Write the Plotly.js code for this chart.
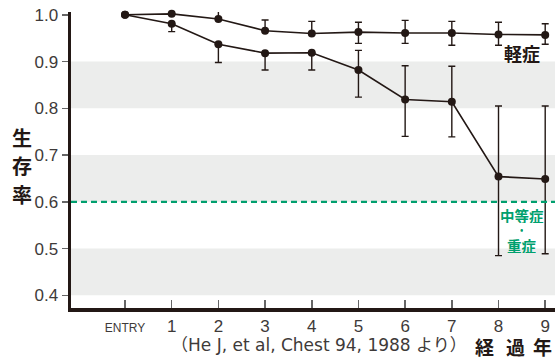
<!DOCTYPE html>
<html>
<head>
<meta charset="utf-8">
<script src="https://cdn.plot.ly/plotly-3.0.1.min.js"></script>
<style>html,body{margin:0;padding:0;background:#fff;}#chart{width:555px;height:358px;}</style>
</head>
<body>
<div id="chart"></div>
<script>
// Data
const years = [0, 1, 2, 3, 4, 5, 6, 7, 8, 9];
const xTickLabels = ["ENTRY", "1", "2", "3", "4", "5", "6", "7", "8", "9"];
const yTicks = [0.4, 0.5, 0.6, 0.7, 0.8, 0.9, 1.0];

const mildSurvival = [1.0, 1.002, 0.991, 0.966, 0.960, 0.963, 0.961, 0.961, 0.958, 0.957];
const mildErrPlus  = [0, 0, 0.017, 0.023, 0.026, 0.021, 0.027, 0.025, 0.026, 0.024];
const mildErrMinus = [0, 0, 0, 0, 0, 0.024, 0.022, 0.026, 0.023, 0.020];

const severeSurvival = [1.0, 0.981, 0.937, 0.918, 0.919, 0.882, 0.819, 0.814, 0.654, 0.649];
const severeErrPlus  = [0, 0, 0, 0, 0, 0.042, 0.072, 0.076, 0.151, 0.156];
const severeErrMinus = [0, 0.017, 0.039, 0.036, 0.037, 0.058, 0.079, 0.075, 0.169, 0.160];

const bands = [[0.8, 0.9], [0.6, 0.7], [0.4, 0.5]];
const thresholdLine = 0.6;

const dark = "#231815";
const green = "#00a06e";
const labelColor = "#3e3a39";
const jp = "'Noto Sans CJK JP', sans-serif";
const latin = "'Liberation Sans', Arial, sans-serif";
const mixed = "'DejaVu Sans', 'Noto Sans CJK JP', sans-serif";

function seriesTrace(y, plus, minus, name) {
  return {
    x: years, y: y, name: name, type: "scatter", mode: "lines+markers",
    cliponaxis: false,
    line: {color: dark, width: 1.6},
    marker: {color: dark, size: 8},
    error_y: {type: "data", symmetric: false, array: plus, arrayminus: minus,
              color: dark, thickness: 1.4, width: 3.5}
  };
}

const traces = [
  seriesTrace(mildSurvival, mildErrPlus, mildErrMinus, "軽症"),
  seriesTrace(severeSurvival, severeErrPlus, severeErrMinus, "中等症・重症")
];

const shapes = bands.map(b => ({
  type: "rect", xref: "paper", x0: 0, x1: 1, yref: "y", y0: b[0], y1: b[1],
  fillcolor: "#ecedec", line: {width: 0}, layer: "below"
}));
shapes.push({
  type: "line", xref: "paper", x0: 0, x1: 1, yref: "y", y0: thresholdLine, y1: thresholdLine,
  line: {color: green, width: 2.2, dash: "6px,4px"}, layer: "above"
});

function note(x, y, ref, text, font, extra) {
  return Object.assign({x: x, y: y, xref: ref[0], yref: ref[1], text: text, showarrow: false,
    xanchor: "center", yanchor: "middle", borderpad: 0, font: font}, extra || {});
}

const annotations = [
  note(8.5, 0.919, ["x", "y"], "<b>軽症</b>", {family: jp, size: 18, color: dark}),
  note(8.5, 0.571, ["x", "y"], "<b>中等症</b>", {family: jp, size: 14.5, color: green}, {height: 16}),
  note(8.5, 0.540, ["x", "y"], "<b>•</b>", {family: jp, size: 9, color: green}, {height: 5}),
  note(8.5, 0.507, ["x", "y"], "<b>重症</b>", {family: jp, size: 14.5, color: green}, {height: 16}),
  note(-0.1012, 0.575, ["paper", "paper"], "<b>生</b>", {family: jp, size: 20, color: dark}),
  note(-0.1012, 0.483, ["paper", "paper"], "<b>存</b>", {family: jp, size: 20, color: dark}),
  note(-0.1012, 0.382, ["paper", "paper"], "<b>率</b>", {family: jp, size: 20, color: dark}),
  note(0.205, -0.125, ["paper", "paper"], "（He J, et al, Chest 94, 1988 より）",
       {family: mixed, size: 17, color: labelColor}, {xanchor: "left"}),
  note(0.855, -0.128, ["paper", "paper"], "<b>経</b>", {family: jp, size: 19, color: dark}, {height: 22}),
  note(0.919, -0.128, ["paper", "paper"], "<b>過</b>", {family: jp, size: 19, color: dark}, {height: 22}),
  note(0.975, -0.128, ["paper", "paper"], "<b>年</b>", {family: jp, size: 19, color: dark}, {height: 22})
];

const layout = {
  width: 555, height: 358,
  margin: {l: 71, r: 0, t: 12.2, b: 50},
  paper_bgcolor: "#ffffff", plot_bgcolor: "#ffffff",
  showlegend: false,
  xaxis: {
    range: [-1.157, 9.21], tickmode: "array", tickvals: years,
    ticktext: xTickLabels.map((t, i) => i === 0 ? '<span style="font-size:12px">' + t + '</span>' : t),
    ticks: "inside", ticklen: 8, tickwidth: 1.5, tickcolor: "#666",
    showline: true, linecolor: dark, linewidth: 3.5, showgrid: false, zeroline: false,
    tickfont: {family: latin, size: 17, color: labelColor}
  },
  yaxis: {
    range: [0.373, 1.006], tickmode: "array", tickvals: yTicks, tickformat: ".1f",
    ticks: "outside", ticklen: 6, tickwidth: 1.5, tickcolor: "#666",
    showline: true, linecolor: dark, linewidth: 3.5, showgrid: false, zeroline: false,
    tickfont: {family: latin, size: 17, color: labelColor}
  },
  shapes: shapes,
  annotations: annotations
};

Plotly.newPlot("chart", traces, layout, {displayModeBar: false, staticPlot: true});
</script>
</body>
</html>
